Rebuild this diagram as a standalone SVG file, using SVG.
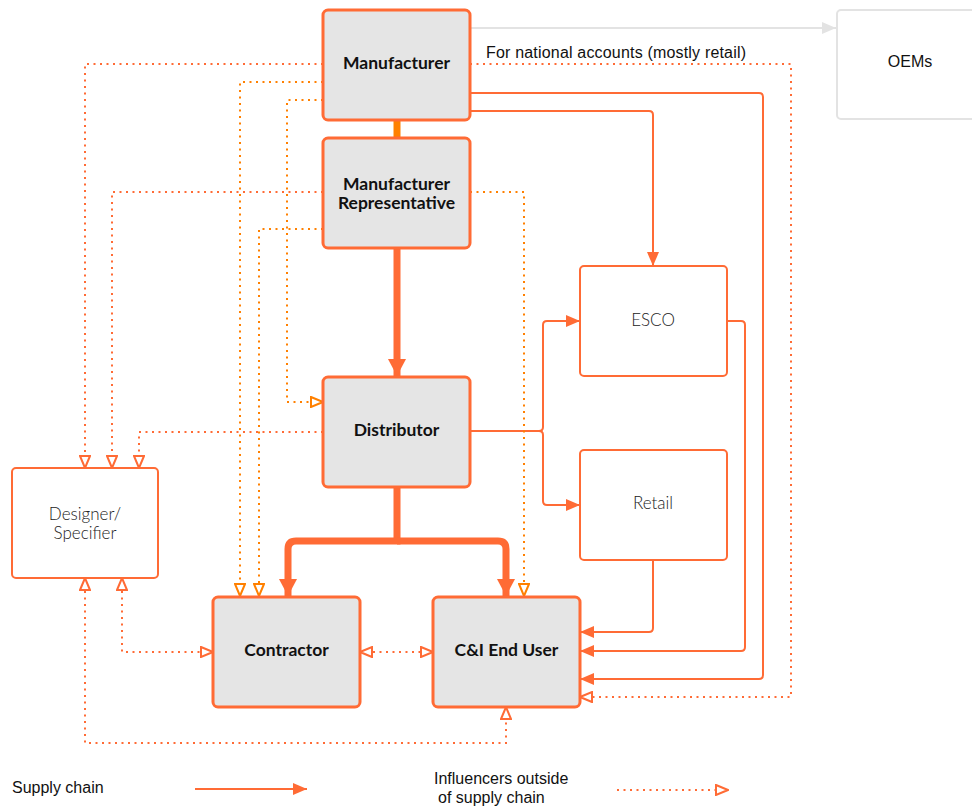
<svg xmlns="http://www.w3.org/2000/svg" width="972" height="806" viewBox="0 0 972 806">
<style>
.main rect{fill:#e5e5e5;stroke:#ff6b35;stroke-width:3}
.sub rect{fill:#fff;stroke:#ff6b35;stroke-width:2}
.oem rect{fill:#fff;stroke:#e3e3e3;stroke-width:2}
.bt{font-family:"Lato","Liberation Sans",sans-serif;font-weight:700;font-size:17.5px;fill:#111;text-anchor:middle}
.lt{font-family:"Lato","Liberation Sans",sans-serif;font-weight:300;font-size:17px;fill:#222;text-anchor:middle}
.rt{font-family:"Liberation Sans",Arial,sans-serif;font-size:16px;fill:#111}
.sc{fill:none;stroke:#ff6b35;stroke-width:2;marker-end:url(#ah)}
.tk{fill:none;stroke:#ff6b35;stroke-width:7;marker-end:url(#ahT)}
.dt{fill:none;stroke:#ff6b35;stroke-width:2;stroke-dasharray:2 4.5;marker-end:url(#oh)}
.dt2{fill:none;stroke:#ff8000;stroke-width:2;stroke-dasharray:2 4.5;marker-end:url(#oh2)}
.bi{marker-start:url(#oh)}
</style>
<defs>
<marker id="ah" markerUnits="userSpaceOnUse" viewBox="0 0 14 12" markerWidth="14" markerHeight="12" refX="14" refY="6" orient="auto"><path d="M0,0 L14,6 L0,12 Z" fill="#ff6b35"/></marker>
<marker id="ahT" markerUnits="userSpaceOnUse" viewBox="0 0 17 18" markerWidth="17" markerHeight="18" refX="17" refY="9" orient="auto"><path d="M0,0 L17,9 L0,18 Z" fill="#ff6b35"/></marker>
<marker id="ahG" markerUnits="userSpaceOnUse" viewBox="0 0 14 12" markerWidth="14" markerHeight="12" refX="14" refY="6" orient="auto"><path d="M0,0 L14,6 L0,12 Z" fill="#e3e3e3"/></marker>
<marker id="oh" markerUnits="userSpaceOnUse" viewBox="0 0 14 12" markerWidth="14" markerHeight="12" refX="13" refY="6" orient="auto-start-reverse"><path d="M1,1 L13,6 L1,11 Z" fill="#fff" stroke="#ff6b35" stroke-width="2"/></marker>
<marker id="oh2" markerUnits="userSpaceOnUse" viewBox="0 0 14 12" markerWidth="14" markerHeight="12" refX="13" refY="6" orient="auto-start-reverse"><path d="M1,1 L13,6 L1,11 Z" fill="#fff" stroke="#ff8000" stroke-width="2"/></marker>
</defs>

<g id="connectors">
<path d="M470,28 H836" fill="none" stroke="#e3e3e3" stroke-width="2" marker-end="url(#ahG)"/>
<path d="M397,120 V137" fill="none" stroke="#ff8000" stroke-width="7"/>
<path class="tk" d="M397,248 V376"/>
<path class="tk" d="M397,487 V541 H296 Q288,541 288,549 V596"/>
<path class="tk" d="M397,541 H498 Q506,541 506,549 V596"/>
<path class="sc" d="M470,93 H759 Q763,93 763,97 V675 Q763,679 759,679 H580"/>
<path class="sc" d="M470,111 H649 Q653,111 653,115 V266"/>
<path class="sc" d="M470,431 H539 Q543,431 543,427 V325 Q543,321 547,321 H580"/>
<path class="sc" d="M539,431 Q543,431 543,435 V501 Q543,505 547,505 H580"/>
<path class="sc" d="M727,321 H741 Q745,321 745,325 V647 Q745,651 741,651 H580"/>
<path class="sc" d="M653,560 V628 Q653,632 649,632 H580"/>
<path class="dt" d="M323,64 H85 V468"/>
<path class="dt2" d="M323,82 H240 V596"/>
<path class="dt2" d="M323,100 H287 V402 H323"/>
<path class="dt" d="M323,192 H112 V468"/>
<path class="dt2" d="M323,229 H259 V596"/>
<path class="dt2" d="M470,192 H524 V596"/>
<path class="dt" d="M470,64 H791 V697 H580"/>
<path class="dt" d="M323,432 H139 V468"/>
<path class="dt bi" d="M122,578 V652 H213"/>
<path class="dt bi" d="M360,652 H433"/>
<path class="dt bi" d="M85,578 V743 H506 V707"/>
</g>

<g id="manufacturer" class="main"><rect x="323" y="10" width="147" height="110" rx="5"/><text class="bt" x="396.5" y="69">Manufacturer</text></g>
<g id="rep" class="main"><rect x="323" y="138" width="147" height="110" rx="5"/><text class="bt" x="396.5" y="190">Manufacturer</text><text class="bt" x="396.5" y="209">Representative</text></g>
<g id="distributor" class="main"><rect x="323" y="377" width="147" height="110" rx="5"/><text class="bt" x="396.5" y="436">Distributor</text></g>
<g id="contractor" class="main"><rect x="213" y="597" width="147" height="110" rx="5"/><text class="bt" x="286.5" y="656">Contractor</text></g>
<g id="enduser" class="main"><rect x="433" y="597" width="147" height="110" rx="5"/><text class="bt" x="506.5" y="656">C&amp;I End User</text></g>
<g id="designer" class="sub"><rect x="12" y="468" width="146" height="110" rx="4"/><text class="lt" x="85" y="520">Designer/</text><text class="lt" x="85" y="539">Specifier</text></g>
<g id="esco" class="sub"><rect x="580" y="266" width="147" height="110" rx="4"/><text class="lt" x="653" y="326">ESCO</text></g>
<g id="retail" class="sub"><rect x="580" y="450" width="147" height="110" rx="4"/><text class="lt" x="653" y="509">Retail</text></g>
<g id="oems" class="oem"><rect x="837" y="10" width="150" height="109" rx="4"/><text class="rt" x="910" y="67" text-anchor="middle">OEMs</text></g>

<g id="labels">
<text class="rt" x="486" y="58" textLength="260">For national accounts (mostly retail)</text>
</g>

<g id="legend">
<text class="rt" x="12" y="793">Supply chain</text>
<path class="sc" d="M195,789 H307"/>
<text class="rt" x="434" y="784">Influencers outside</text>
<text class="rt" x="438" y="803">of supply chain</text>
<path class="dt" d="M617,790 H728"/>
</g>
</svg>
